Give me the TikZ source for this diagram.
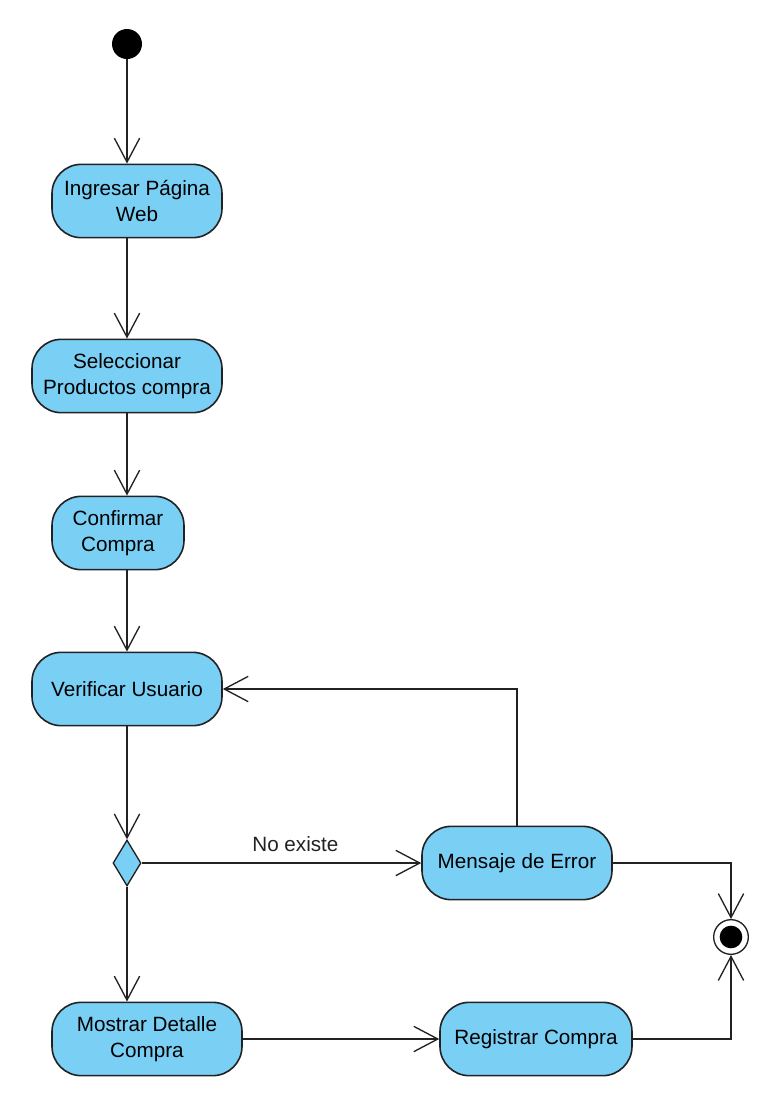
\documentclass[tikz,border=0pt]{standalone}
\usepackage{fontspec}
\setmainfont{Liberation Sans}
\usetikzlibrary{arrows.meta, shapes.geometric}
\definecolor{actblue}{HTML}{7ACFF5}
\definecolor{edgegray}{HTML}{222222}

\begin{document}
\begin{tikzpicture}[x=0.75pt, y=-0.75pt,
    every node/.style={font=\fontsize{15.5}{19.5}\selectfont},
    action/.style={draw=edgegray, fill=actblue, line width=1.2pt, rounded corners=22pt,
        minimum height=55pt, align=center, inner sep=1pt},
    flow/.style={edgegray, line width=1pt, -{Straight Barb[length=18pt, width=19pt]}}]
    \useasboundingbox (0,0) rectangle (766,1097);
    % Start / end
    \node[circle, fill=black, minimum size=22.5pt, inner sep=0pt] (start) at (127,44) {};
    \node[circle, draw=edgegray, line width=1pt, fill=white, minimum size=26pt, inner sep=0pt] (final) at (731,937) {};
    \fill[black] (final.center) circle (8.5pt);
    % Actions
    \node[action, minimum width=127.5pt] (ingresar) at (137,201) {Ingresar Página\\Web};
    \node[action, minimum width=142.5pt] (seleccionar) at (127,376) {Seleccionar\\Productos compra};
    \node[action, minimum width=99pt] (confirmar) at (118,533) {Confirmar\\Compra};
    \node[action, minimum width=142.5pt] (verificar) at (127,689) {Verificar Usuario};
    \node[diamond, draw=edgegray, fill=actblue, line width=1pt, minimum width=21pt,
        minimum height=34.5pt, inner sep=0pt] (decision) at (127,863) {};
    \node[action, minimum width=142.5pt] (mensaje) at (517,863) {Mensaje de Error};
    \node[action, minimum width=142.5pt] (mostrar) at (147,1039) {Mostrar Detalle\\Compra};
    \node[action, minimum width=144pt] (registrar) at (536,1039) {Registrar Compra};
    % Flows
    \draw[flow] (start) -- (start |- ingresar.north);
    \draw[flow] (start |- ingresar.south) -- (seleccionar.north);
    \draw[flow] (seleccionar.south) -- (seleccionar.south |- confirmar.north);
    \draw[flow] (seleccionar.south |- confirmar.south) -- (verificar.north);
    \draw[flow] (verificar.south) -- (decision.north);
    \draw[flow] (decision.east) -- node[pos=0.55, above=5pt] {No existe} (mensaje.west);
    \draw[flow] (mensaje.north) |- (verificar.east);
    \draw[flow] (decision.south) -- (decision.south |- mostrar.north);
    \draw[flow] (mostrar.east) -- (registrar.west);
    \draw[flow] (mensaje.east) -| (final.north);
    \draw[flow] (registrar.east) -| (final.south);
\end{tikzpicture}
\end{document}
